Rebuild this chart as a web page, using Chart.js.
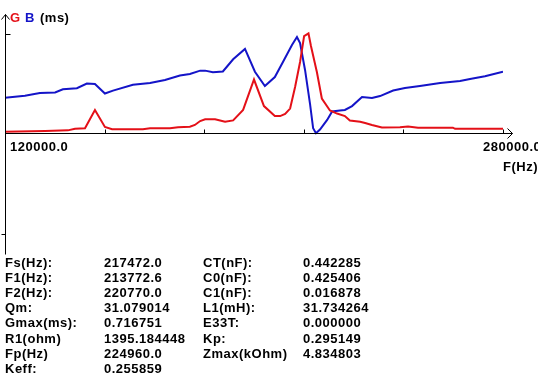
<!DOCTYPE html>
<html>
<head>
<meta charset="utf-8">
<script src="https://cdn.jsdelivr.net/npm/chart.js@4/dist/chart.umd.min.js"></script>
<style>
html,body{margin:0;padding:0;background:#fff;}
#wrap{position:relative;width:538px;height:377px;overflow:hidden;background:#fff;}
#c{position:absolute;left:0;top:0;}
.t{position:absolute;font:bold 13px "Liberation Sans",Arial,sans-serif;letter-spacing:0.5px;color:#000;white-space:nowrap;line-height:15px;}
</style>
</head>
<body>
<div id="wrap">
<canvas id="c" width="538" height="377"></canvas>
</div>
<script>
// ---- data ----
const gFreq = [120000,132900,140200,142500,145700,148900,152100,154400,164300,166600,173000,175600,179400,181000,182700,184300,187500,190700,193300,196500,200000,203200,206700,208400,210000,211600,213200,214800,216100,217500,218300,220200,221800,224400,226700,229200,230800,234100,235700,237900,241100,246900,249500,252700,263900,264600,280000];
const gVal  = [0.009,0.014,0.019,0.031,0.034,0.166,0.043,0.027,0.027,0.034,0.034,0.041,0.045,0.058,0.086,0.099,0.099,0.081,0.091,0.166,0.385,0.194,0.122,0.122,0.137,0.176,0.331,0.511,0.698,0.717,0.626,0.439,0.248,0.162,0.140,0.122,0.090,0.081,0.072,0.058,0.040,0.041,0.047,0.038,0.038,0.030,0.030];
const bFreq = [120000,126400,131200,136100,138600,143100,146300,148900,152100,154700,161100,166600,171400,176200,179400,182700,184300,186800,190000,193300,197100,200300,203500,206700,209300,212200,213800,214800,216400,218000,219000,219900,221200,223500,225100,227600,229200,231500,234700,237900,240500,244700,248500,253300,259800,266200,269400,274200,280000];
const bVal  = [0.254,0.268,0.288,0.292,0.315,0.322,0.356,0.353,0.284,0.305,0.347,0.360,0.382,0.414,0.425,0.449,0.449,0.437,0.443,0.531,0.605,0.441,0.338,0.403,0.511,0.634,0.691,0.648,0.454,0.209,0.034,-0.002,0.025,0.094,0.155,0.162,0.166,0.194,0.259,0.252,0.266,0.306,0.324,0.338,0.360,0.374,0.389,0.408,0.441];

const xMin = 120000, xMax = 280000;
const xTicks = [152000,184000,216000,248000,280000];
const xTickLabels = ["120000.0","280000.0"];
const yTicks = [0.713,-0.727];
const yMin = -0.9, yMax = 0.8352, yAxisBottom = -0.872;

const col1 = ["Fs(Hz):","F1(Hz):","F2(Hz):","Qm:","Gmax(ms):","R1(ohm)","Fp(Hz)","Keff:"];
const col2 = ["217472.0","213772.6","220770.0","31.079014","0.716751","1395.184448","224960.0","0.255859"];
const col3 = ["CT(nF):","C0(nF):","C1(nF):","L1(mH):","E33T:","Kp:","Zmax(kOhm)"];
const col4 = ["0.442285","0.425406","0.016878","31.734264","0.000000","0.295149","4.834803"];

// ---- table as real text ----
const wrap = document.getElementById('wrap');
function addText(txt, x, y, color){
  const d = document.createElement('div');
  d.className = 't';
  d.textContent = txt;
  d.style.left = x + 'px';
  d.style.top = y + 'px';
  if (color) d.style.color = color;
  wrap.appendChild(d);
  return d;
}
const rowTop = 255, rowH = 15.1;
col1.forEach((s,i)=>addText(s,5,Math.round(rowTop+i*rowH)));
col2.forEach((s,i)=>addText(s,104,Math.round(rowTop+i*rowH)));
col3.forEach((s,i)=>addText(s,203,Math.round(rowTop+i*rowH)));
col4.forEach((s,i)=>addText(s,303,Math.round(rowTop+i*rowH)));
// title / axis labels
addText("G",10,10,"#e41018");
addText("B",25,10,"#1414c8");
addText("(ms)",40,10);
addText("F(Hz)",503,159);

const RED = '#e41018', BLUE = '#1414c8';

const axesPlugin = {
  id: 'axesPlugin',
  afterDatasetsDraw(chart){
    const ctx = chart.ctx;
    const xs = chart.scales.x, ys = chart.scales.y;
    const x0 = Math.round(xs.getPixelForValue(xMin)) + 0.5;
    const xE = Math.round(xs.getPixelForValue(xMax)) + 0.5;
    const y0 = Math.round(ys.getPixelForValue(0)) + 0.5;
    const yT = Math.round(ys.getPixelForValue(yMax)) + 0.5;
    const yB = Math.round(ys.getPixelForValue(yAxisBottom)) + 0.5;
    ctx.save();
    ctx.strokeStyle = '#000';
    ctx.lineWidth = 1;
    ctx.beginPath();
    // y axis
    ctx.moveTo(x0, yT - 3); ctx.lineTo(x0, yB);
    // y arrow
    ctx.moveTo(x0 - 4, yT + 2); ctx.lineTo(x0, yT - 3); ctx.lineTo(x0 + 4, yT + 2);
    // x axis
    ctx.moveTo(x0, y0); ctx.lineTo(xE + 9, y0);
    // x arrow
    ctx.moveTo(xE + 4, y0 - 5); ctx.lineTo(xE + 9, y0); ctx.lineTo(xE + 4, y0 + 5);
    // x ticks (upwards)
    xTicks.forEach(v=>{
      const px = Math.round(xs.getPixelForValue(v)) + 0.5;
      ctx.moveTo(px, y0); ctx.lineTo(px, y0 - 4);
    });
    // y ticks
    const ty1 = Math.round(ys.getPixelForValue(yTicks[0])) + 0.5;
    ctx.moveTo(x0, ty1); ctx.lineTo(x0 + 5, ty1);
    const ty2 = Math.round(ys.getPixelForValue(yTicks[1])) + 0.5;
    ctx.moveTo(x0 - 4, ty2); ctx.lineTo(x0, ty2);
    ctx.stroke();
    ctx.restore();
  }
};

new Chart(document.getElementById('c'), {
  type: 'line',
  data: {
    datasets: [
      { label: 'G', data: gFreq.map((f,i)=>({x:f,y:gVal[i]})), borderColor: RED, borderWidth: 2, pointRadius: 0, tension: 0, fill: false },
      { label: 'B', data: bFreq.map((f,i)=>({x:f,y:bVal[i]})), borderColor: BLUE, borderWidth: 2, pointRadius: 0, tension: 0, fill: false }
    ]
  },
  options: {
    responsive: false,
    animation: false,
    devicePixelRatio: 1,
    layout: { padding: { left: 5, right: 35, top: 17, bottom: 119 } },
    plugins: { legend: { display: false }, tooltip: { enabled: false } },
    scales: {
      x: { type: 'linear', min: xMin, max: xMax, display: false },
      y: { type: 'linear', min: yMin, max: yMax, display: false }
    }
  },
  plugins: [axesPlugin]
});

// x tick labels placed via the x scale
const chart = Chart.getChart('c');
const xsc = chart.scales.x;
addText(xTickLabels[0], Math.round(xsc.getPixelForValue(xMin)) + 5, 139);
addText(xTickLabels[1], Math.round(xsc.getPixelForValue(xMax)) - 20, 139);
</script>
</body>
</html>
